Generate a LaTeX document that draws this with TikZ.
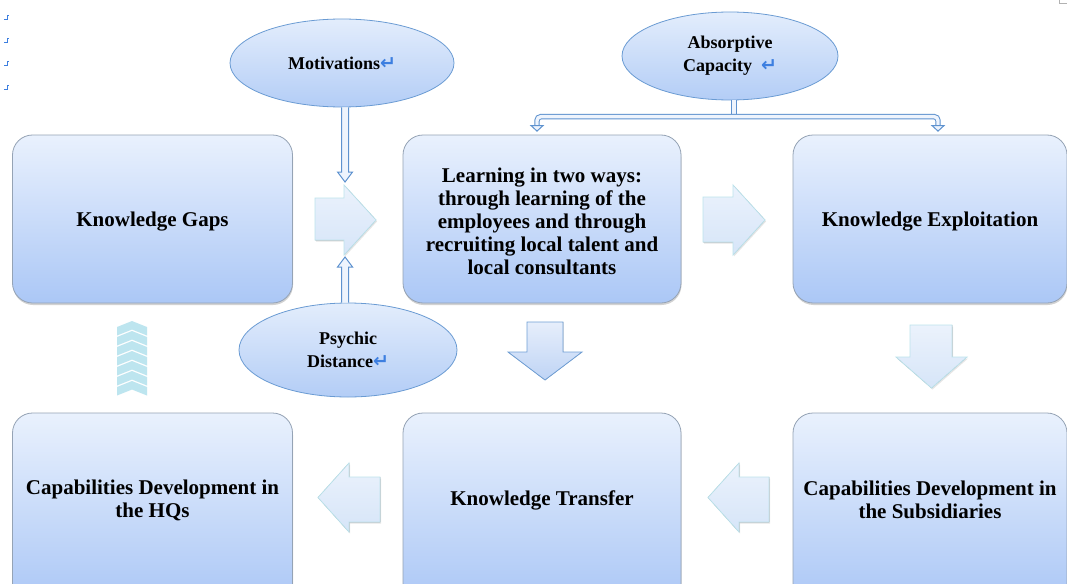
\documentclass[tikz,border=0pt]{standalone}
\usepackage{fontspec}
\setmainfont{Liberation Serif}
\newfontfamily\dejavu{DejaVu Sans}
\usetikzlibrary{shapes.geometric,shadows,calc}
\definecolor{boxtop}{HTML}{E9F1FD}
\definecolor{boxbot}{HTML}{ABC7F6}
\definecolor{boxline}{HTML}{95A3B5}
\definecolor{elltop}{HTML}{E3EDFC}
\definecolor{ellbot}{HTML}{B3CDF6}
\definecolor{ellline}{HTML}{6A9BD3}
\definecolor{arrtop}{HTML}{EBF2FC}
\definecolor{arrbot}{HTML}{D6E5F8}
\definecolor{arrline}{HTML}{BDE3EC}
\definecolor{darrtop}{HTML}{E6EEFB}
\definecolor{darrbot}{HTML}{BFD4F5}
\definecolor{darrline}{HTML}{6F9FD6}
\definecolor{chev}{HTML}{BDE5EF}
\definecolor{dblc}{HTML}{5E92CF}
\definecolor{dblin}{HTML}{EEF4FD}
\definecolor{retc}{HTML}{3D7FE0}
\newcommand\retmark{{\dejavu\color{retc}\fontsize{19}{19}\selectfont ↵}}
\begin{document}
\begin{tikzpicture}[x=1pt,y=-1pt,
  box/.style={draw=boxline, line width=0.8pt, rounded corners=20pt,
    top color=boxtop, bottom color=boxbot, minimum width=280pt,
    minimum height=168pt, inner sep=0pt,
    drop shadow={shadow xshift=0.5pt, shadow yshift=-2pt, opacity=0.35}},
  txt/.style={font=\bfseries\fontsize{21}{23}\selectfont, align=center, text=black, inner sep=0pt},
  oval/.style={ellipse, draw=ellline, line width=0.8pt, top color=elltop,
    bottom color=ellbot, inner sep=0pt,
    font=\bfseries\fontsize{18}{23}\selectfont, align=center},
  larrow/.style={draw=arrline, line width=0.8pt, line join=miter,
    top color=arrtop, bottom color=arrbot,
    drop shadow={shadow xshift=1pt, shadow yshift=-1.5pt, opacity=0.2}},
  darrow/.style={draw=darrline, line width=0.8pt, line join=miter,
    top color=darrtop, bottom color=darrbot},
  dblarr/.style={draw=dblc, line width=1pt, fill=dblin, line join=miter},
  dblline/.style={draw=dblc, line width=1pt, double=dblin, double distance=3.4pt},
]
\fill[white] (0,0) rectangle (1067,583);
\useasboundingbox (0,0) rectangle (1067,583);

% paragraph marks top-left
\foreach \yy in {17,40,63,87}
  \draw[retc, line width=0.9pt] (4,{\yy+2}) -- (7.5,{\yy+2}) -- (7.5,{\yy-1.5}) -- (9,{\yy-1.5});
\draw[gray!60, line width=0.5pt] (1059,0) -- (1059,3) -- (1067,3);

% boxes
\node[box] (kg) at (152.5,219) {};
\node[txt] (kgt) at (152.5,222) {Knowledge Gaps};
\node[box, minimum width=278pt] (learn) at (542,219) {};
\node[txt] (learnt) at (542,221) {Learning in two ways:\\through learning of the\\employees and through\\recruiting local talent and\\local consultants};
\node[box, minimum width=274pt] (kexp) at (930,219) {};
\node[txt] (kexpt) at (930,222) {Knowledge Exploitation};

\node[box, minimum height=190pt] (hqbox) at (152.5,508) {};
\node[txt] (hq) at (152.5,500) {Capabilities Development in\\the HQs};
\node[box, minimum width=278pt, minimum height=190pt] (ktbox) at (542,508) {};
\node[txt] (kt) at (542,500) {Knowledge Transfer};
\node[box, minimum width=274pt, minimum height=190pt] (subbox) at (930,508) {};
\node[txt] (sub) at (930,500) {Capabilities Development in\\the Subsidiaries};

% block arrows
\filldraw[larrow] (315,198) -- (344,198) -- (344,185) -- (376,220) -- (344,255) -- (344,240) -- (315,240) -- cycle;
\coordinate (ar1n) at (345,185);
\coordinate (ar1s) at (345,255);
\filldraw[larrow] (703,197) -- (733,197) -- (733,185) -- (765,220) -- (733,255) -- (733,242) -- (703,242) -- cycle;
\filldraw[darrow] (527,322) -- (563,322) -- (563,352) -- (582,352) -- (545,380) -- (508,352) -- (527,352) -- cycle;
\filldraw[larrow] (910,325) -- (952,325) -- (952,357) -- (967,357) -- (931.5,388) -- (896,357) -- (910,357) -- cycle;
\filldraw[larrow] (769,477) -- (739,477) -- (739,463) -- (708,497.5) -- (739,532) -- (739,522) -- (769,522) -- cycle;
\filldraw[larrow] (380,477) -- (349,477) -- (349,463) -- (318,497.5) -- (349,532) -- (349,522) -- (380,522) -- cycle;

% chevrons
\foreach \i in {0,...,6}
  \fill[chev] (117,{327+\i*10}) -- (132,{321+\i*10}) -- (147,{327+\i*10})
    -- (147,{335.5+\i*10}) -- (132,{329.5+\i*10}) -- (117,{335.5+\i*10}) -- cycle;

% ellipses
\node[oval, minimum width=224pt, minimum height=88pt] (mot) at (342,63) {Motivations\retmark};
\node[oval, minimum width=216pt, minimum height=88pt] (abs) at (730,56) {Absorptive\\Capacity\ \ \retmark};
\node[oval, minimum width=218pt, minimum height=94pt] (psy) at (348,350) {Psychic\\Distance\retmark};

% double arrows
\draw[dblarr] let \p1=(ar1n), \p2=(mot.south) in
  (\x1-3.5pt,\y2) -- (\x1-3.5pt,\y1+13pt) -- (\x1-7.5pt,\y1+13pt) -- (\x1,\y1+3pt)
  -- (\x1+7.5pt,\y1+13pt) -- (\x1+3.5pt,\y1+13pt) -- (\x1+3.5pt,\y2);
\draw[dblarr] let \p1=(ar1s), \p2=(psy.north) in
  (\x1-3.5pt,\y2) -- (\x1-3.5pt,\y1-12pt) -- (\x1-7.5pt,\y1-12pt) -- (\x1,\y1-2pt)
  -- (\x1+7.5pt,\y1-12pt) -- (\x1+3.5pt,\y1-12pt) -- (\x1+3.5pt,\y2);

% bracket from absorptive capacity
\draw[dblline] ($(abs.south)+(4,0)$) -- ($(abs.south)+(4,17)$);
\draw[dblline, rounded corners=4pt] ($(learn.north)+(-5,-7)$) -- ($(learn.north)+(-5,-18)$)
  -| ($(kexp.north)+(8,-7)$);
\draw[dblarr] ($(learn.north)+(-11,-9)$) -- ($(learn.north)+(-5,-3.5)$) -- ($(learn.north)+(1,-9)$) -- cycle;
\draw[dblarr] ($(kexp.north)+(2,-9)$) -- ($(kexp.north)+(8,-3.5)$) -- ($(kexp.north)+(14,-9)$) -- cycle;
\end{tikzpicture}
\end{document}
